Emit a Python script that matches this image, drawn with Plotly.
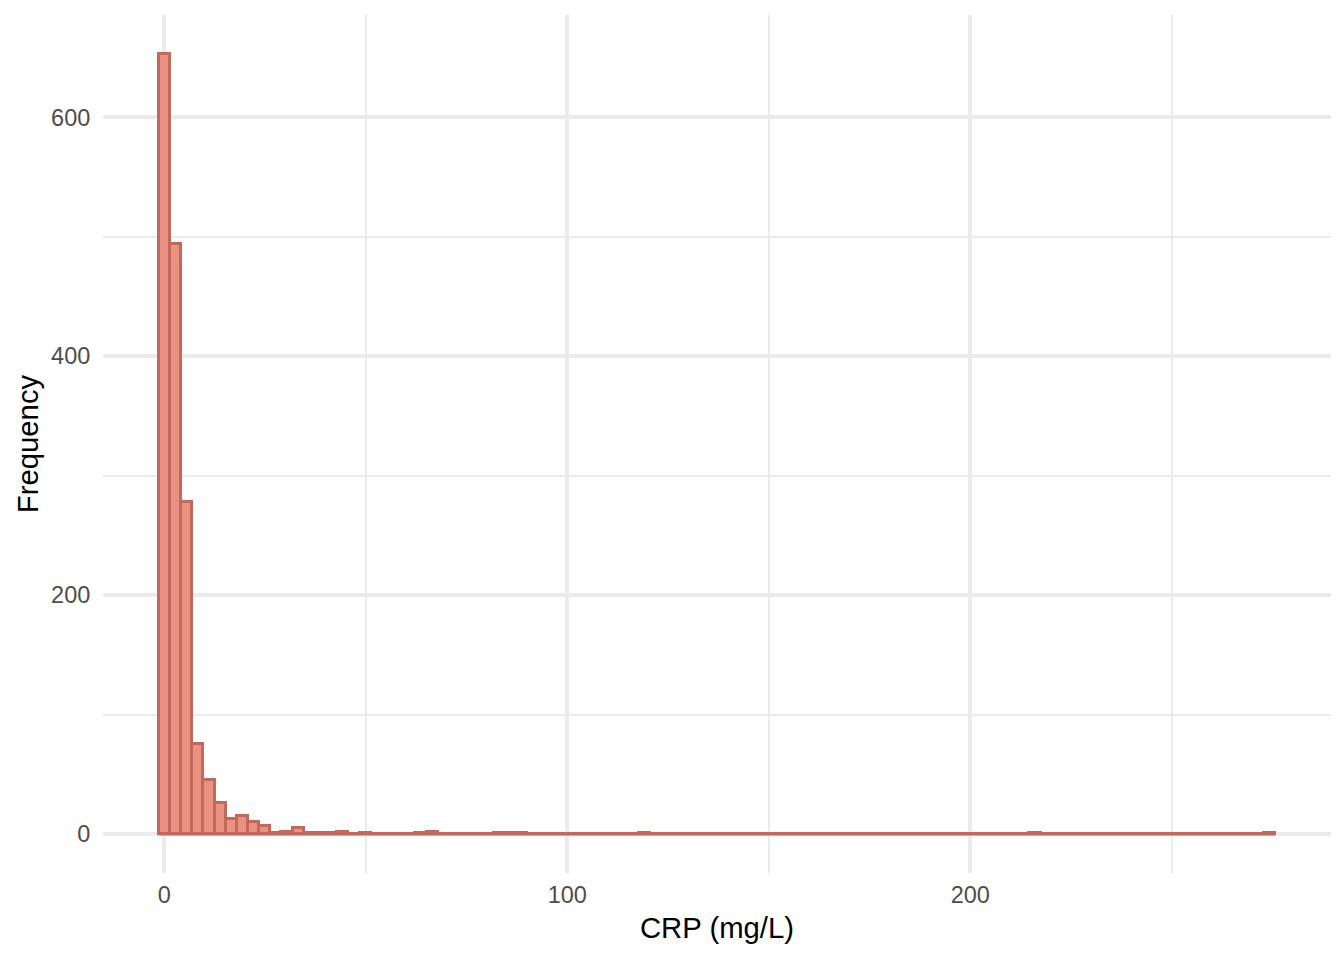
import plotly.graph_objects as go

# Histogram of CRP (mg/L): 100 bins, first bin centred at 0
bin_width = 2.77
first_center = 0.0
counts = [
    653, 494, 278, 75, 45, 26, 13, 15, 10, 7,
    1, 2, 5, 1, 1, 1, 2, 0, 1, 0,
    0, 0, 0, 1, 2, 0, 0, 0, 0, 0,
    1, 1, 1, 0, 0, 0, 0, 0, 0, 0,
    0, 0, 0, 1, 0, 0, 0, 0, 0, 0,
    0, 0, 0, 0, 0, 0, 0, 0, 0, 0,
    0, 0, 0, 0, 0, 0, 0, 0, 0, 0,
    0, 0, 0, 0, 0, 0, 0, 0, 1, 0,
    0, 0, 0, 0, 0, 0, 0, 0, 0, 0,
    0, 0, 0, 0, 0, 0, 0, 0, 0, 1,
]
x_ticks = [0, 100, 200]
x_tick_labels = ["0", "100", "200"]
y_ticks = [0, 200, 400, 600]
y_tick_labels = ["0", "200", "400", "600"]

centers = [first_center + i * bin_width for i in range(len(counts))]
left_edge = centers[0] - bin_width / 2
right_edge = centers[-1] + bin_width / 2

FILL = "#EA9282"
EDGE = "#C2695C"
GRID = "#EBEBEB"
FONT = "Liberation Sans"

fig = go.Figure()
# baseline formed by empty bins' outlines
fig.add_trace(go.Scatter(
    x=[left_edge, right_edge], y=[0, 0], mode="lines",
    line=dict(color=EDGE, width=3), hoverinfo="skip", showlegend=False,
))
fig.add_trace(go.Bar(
    x=centers, y=counts, width=bin_width,
    marker=dict(color=FILL, line=dict(color=EDGE, width=3)),
    showlegend=False,
))

fig.update_layout(
    width=1344, height=960,
    margin=dict(l=95, r=21, t=7, b=95),
    plot_bgcolor="white", paper_bgcolor="white",
    bargap=0,
    font=dict(family=FONT),
    xaxis=dict(
        range=[-15.2, 289.5], automargin=False,
        tickmode="array", tickvals=x_ticks, ticktext=x_tick_labels,
        showgrid=True, gridcolor=GRID, gridwidth=3.5,
        minor=dict(dtick=50, tick0=0, showgrid=True, gridcolor=GRID, gridwidth=1.9),
        zeroline=False, showline=False,
        ticks="outside", ticklen=1, tickcolor="rgba(0,0,0,0)",
        tickfont=dict(family=FONT, size=23.5, color="#4D4D4D"),
        title=dict(text="CRP (mg/L)", font=dict(family=FONT, size=29.3, color="black"), standoff=10),
    ),
    yaxis=dict(
        range=[-32.6, 685.7], automargin=False,
        tickmode="array", tickvals=y_ticks, ticktext=y_tick_labels,
        showgrid=True, gridcolor=GRID, gridwidth=3.5,
        minor=dict(dtick=100, tick0=0, showgrid=True, gridcolor=GRID, gridwidth=1.9),
        zeroline=False, showline=False,
        ticks="outside", ticklen=7, tickcolor="rgba(0,0,0,0)",
        tickfont=dict(family=FONT, size=23.5, color="#4D4D4D"),
        title=dict(text="Frequency", font=dict(family=FONT, size=29.3, color="black"), standoff=3),
    ),
)

fig.write_html("out.html")
